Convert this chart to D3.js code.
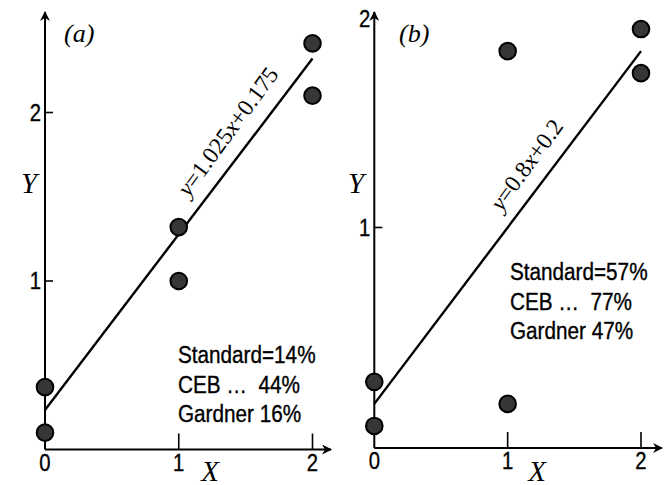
<!DOCTYPE html>
<html>
<head>
<meta charset="utf-8">
<script src="https://cdn.jsdelivr.net/npm/d3@7"></script>
<style>
  body { margin: 0; background: #fff; }
  svg { display: block; }
  .sans { font-family: "Liberation Sans", Arial, sans-serif; stroke: #000; stroke-width: 0.35px; }
  .serif { font-family: "Liberation Serif", "Times New Roman", serif; }
</style>
</head>
<body>
<svg width="670" height="485"></svg>
<script>
// ---- data ----
var xCats = [0, 0, 1, 1, 2, 2];
var xTicks = [0, 1, 2];
var yTicksA = [1, 2];
var yTicksB = [1, 2];

var yA = [0.1, 0.37, 1.0, 1.32, 2.1, 2.41];
var yB = [0.1, 0.3, 0.2, 1.8, 1.9, 1.7];

// fitted line as drawn, value at x=0 and x=2
var fitA = [0.235, 2.32];
var fitB = [0.2, 1.8];

var eqA = ["y", "=1.025", "x", "+0.175"];
var eqB = ["y", "=0.8", "x", "+0.2"];

var statsA = ["Standard=14%", "CEB \u2026  44%", "Gardner 16%"];
var statsB = ["Standard=57%", "CEB \u2026  77%", "Gardner 47%"];

var svg = d3.select("svg");

svg.append("defs").append("marker")
    .attr("id", "arrow")
    .attr("viewBox", "0 0 10 10")
    .attr("refX", 9).attr("refY", 5)
    .attr("markerWidth", 5).attr("markerHeight", 5)
    .attr("markerUnits", "strokeWidth")
    .attr("orient", "auto")
    .append("path")
    .attr("d", "M0,0 L10,5 L0,10 L3,5 Z")
    .attr("fill", "#000");

// the original lettering is a bit narrower and taller than Arial
function narrow(sel, k){
    sel.each(function(){
        var w = this.getComputedTextLength();
        d3.select(this)
            .attr("textLength", w * k)
            .attr("lengthAdjust", "spacingAndGlyphs");
    });
}

function panel(opt){

    var g = svg.append("g");

    var x = d3.scaleLinear().domain([0, 2]).range(opt.xRange);
    var y = d3.scaleLinear().domain([0, 1]).range(opt.yRange);

    var x0 = x(0), y0 = y(0);

    /* --------- axes --------- */
    g.append("line")
        .attr("x1", x0).attr("y1", y0)
        .attr("x2", opt.xEnd).attr("y2", y0)
        .attr("stroke", "#000").attr("stroke-width", 2)
        .attr("marker-end", "url(#arrow)");

    g.append("line")
        .attr("x1", x0).attr("y1", y0)
        .attr("x2", x0).attr("y2", opt.yEnd)
        .attr("stroke", "#000").attr("stroke-width", 2)
        .attr("marker-end", "url(#arrow)");

    // x ticks point up, no tick at 0
    g.selectAll(".xt")
        .data(xTicks.filter(function(d){ return d > 0; }))
        .enter().append("line")
        .attr("x1", function(d){ return x(d); })
        .attr("x2", function(d){ return x(d); })
        .attr("y1", y0).attr("y2", y0 - 16)
        .attr("stroke", "#000").attr("stroke-width", 1.6);

    g.selectAll(".xl")
        .data(xTicks)
        .enter().append("text")
        .attr("class", "sans")
        .attr("x", function(d){ return x(d); })
        .attr("y", y0 + 21)
        .attr("text-anchor", "middle")
        .attr("font-size", 23)
        .text(function(d){ return d; })
        .call(narrow, 0.88);

    // y ticks point right, the top one sits under the arrow
    g.selectAll(".yt")
        .data(opt.yTicks.filter(function(d){ return y(d) > opt.yEnd + 10; }))
        .enter().append("line")
        .attr("x1", x0).attr("x2", x0 + 8)
        .attr("y1", function(d){ return y(d); })
        .attr("y2", function(d){ return y(d); })
        .attr("stroke", "#000").attr("stroke-width", 1.6);

    g.selectAll(".yl")
        .data(opt.yTicks)
        .enter().append("text")
        .attr("class", "sans")
        .attr("x", x0 - 4)
        .attr("y", function(d){ return Math.max(y(d), opt.yEnd + 7); })
        .attr("dy", "0.36em")
        .attr("text-anchor", "end")
        .attr("font-size", 23)
        .text(function(d){ return d; })
        .call(narrow, 0.88);

    /* --------- axis names and panel tag --------- */
    g.append("text")
        .attr("class", "serif")
        .attr("x", opt.xName[0]).attr("y", opt.xName[1])
        .attr("text-anchor", "middle")
        .attr("font-style", "italic")
        .attr("font-size", 29)
        .text("X");

    g.append("text")
        .attr("class", "serif")
        .attr("x", opt.yName[0]).attr("y", opt.yName[1])
        .attr("text-anchor", "middle")
        .attr("font-style", "italic")
        .attr("font-size", 29)
        .text("Y");

    g.append("text")
        .attr("class", "serif")
        .attr("x", opt.tag[0]).attr("y", opt.tag[1])
        .attr("font-style", "italic")
        .attr("font-size", 26)
        .text(opt.tagText);

    /* --------- fitted line --------- */
    g.append("line")
        .attr("x1", x(0)).attr("y1", y(opt.fit[0]))
        .attr("x2", x(2)).attr("y2", y(opt.fit[1]))
        .attr("stroke", "#000").attr("stroke-width", 2.4);

    var ang = Math.atan2(y(opt.fit[1]) - y(opt.fit[0]), x(2) - x(0)) * 180 / Math.PI;
    var t = opt.eqAt;
    var ex = x(t), ey = y(opt.fit[0] + (opt.fit[1] - opt.fit[0]) * t / 2);

    var eq = g.append("text")
        .attr("class", "serif")
        .attr("transform", "translate(" + ex + "," + ey + ") rotate(" + (ang - 1) + ")")
        .attr("y", -opt.eqOff)
        .attr("font-size", 23.5);

    eq.selectAll("tspan")
        .data(opt.eq)
        .enter().append("tspan")
        .attr("font-style", function(d, i){ return i % 2 === 0 ? "italic" : "normal"; })
        .text(function(d){ return d; });

    /* --------- points --------- */
    g.selectAll("circle")
        .data(opt.vals)
        .enter().append("circle")
        .attr("cx", function(d, i){ return x(xCats[i]); })
        .attr("cy", function(d){ return y(d); })
        .attr("r", 8.3)
        .attr("fill", "#363636")
        .attr("stroke", "#000")
        .attr("stroke-width", 2);

    /* --------- percentages --------- */
    g.selectAll(".st")
        .data(opt.stats)
        .enter().append("text")
        .attr("class", "sans")
        .attr("x", opt.statsAt[0])
        .attr("y", function(d, i){ return opt.statsAt[1] + i * 29.5; })
        .attr("font-size", 23)
        .style("white-space", "pre")
        .text(function(d){ return d; })
        .call(narrow, 0.9);
}

panel({
    xRange: [45, 312.5], yRange: [449.5, 281], xEnd: 331, yEnd: 12,
    yTicks: yTicksA, vals: yA, fit: fitA,
    eq: eqA, eqAt: 1.16, eqOff: 14,
    stats: statsA, statsAt: [178, 363],
    xName: [210, 481], yName: [29, 193], tag: [64, 42], tagText: "(a)"
});

panel({
    xRange: [374.3, 641], yRange: [448, 227.5], xEnd: 662, yEnd: 12,
    yTicks: yTicksB, vals: yB, fit: fitB,
    eq: eqB, eqAt: 1.04, eqOff: 14,
    stats: statsB, statsAt: [510, 280],
    xName: [537, 481], yName: [356, 193], tag: [399, 42], tagText: "(b)"
});
</script>
</body>
</html>
